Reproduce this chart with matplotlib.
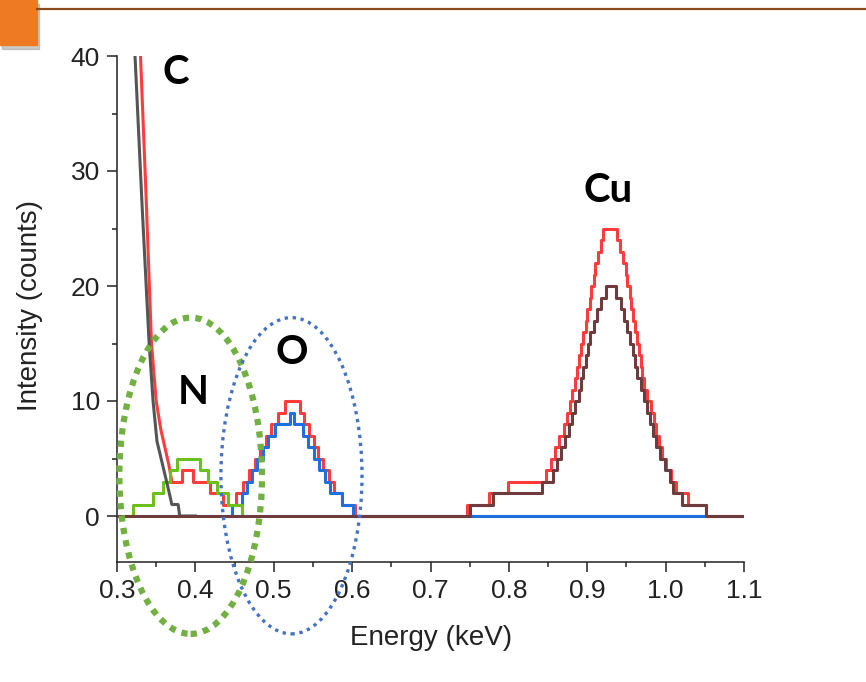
import matplotlib
matplotlib.use('Agg')
import matplotlib.pyplot as plt
from matplotlib.patches import Ellipse, Rectangle
from matplotlib.lines import Line2D
from matplotlib.ticker import MultipleLocator

# C background (smooth decay near the carbon edge)
gray_x = [0.316, 0.323, 0.332, 0.341, 0.346, 0.351, 0.358, 0.365, 0.370, 0.378, 0.380, 0.40]
gray_y = [50, 40, 27, 15, 10, 6.5, 4.5, 2.5, 1, 1, 0, 0]

red_decay_x = [0.324, 0.330, 0.337, 0.344, 0.350, 0.356, 0.361, 0.366, 0.370]
red_decay_y = [50, 40, 28, 15, 10, 7.5, 6, 4.5, 3]

# stepped spectra: x where each count level starts
red_x = [0.370, 0.383, 0.397, 0.419, 0.435, 0.452, 0.461, 0.469, 0.476, 0.483,
         0.490, 0.497, 0.505, 0.514, 0.533, 0.539, 0.545, 0.551, 0.557, 0.563,
         0.570, 0.577, 0.587, 0.604, 0.746, 0.775, 0.799, 0.848, 0.854, 0.859,
         0.864, 0.870, 0.874, 0.878, 0.881, 0.884, 0.887, 0.890, 0.892, 0.895,
         0.898, 0.900, 0.903, 0.905, 0.908, 0.910, 0.914, 0.917, 0.920, 0.938,
         0.942, 0.946, 0.949, 0.951, 0.954, 0.956, 0.959, 0.961, 0.963, 0.966,
         0.968, 0.970, 0.973, 0.976, 0.981, 0.985, 0.988, 0.991, 0.996, 1.001,
         1.007, 1.013, 1.028, 1.052, 1.100]
red_y = [3, 4, 3, 2, 1, 2, 3, 4, 5, 6,
         7, 8, 9, 10, 9, 8, 7, 6, 5, 4,
         3, 2, 1, 0, 1, 2, 3, 4, 5, 6,
         7, 8, 9, 10, 11, 12, 13, 14, 15, 16,
         17, 18, 19, 20, 21, 22, 23, 24, 25, 24,
         23, 22, 21, 20, 19, 18, 17, 16, 15, 14,
         13, 12, 11, 10, 9, 8, 7, 6, 5, 4,
         3, 2, 1, 0, 0]

green_x = [0.316, 0.320, 0.346, 0.359, 0.368, 0.376, 0.406, 0.416, 0.428, 0.442, 0.459, 0.46]
green_y = [0, 1, 2, 3, 4, 5, 4, 3, 2, 1, 0, 0]

blue_x = [0.440, 0.4465, 0.459, 0.466, 0.472, 0.479, 0.486, 0.493, 0.502, 0.521,
          0.526, 0.537, 0.544, 0.551, 0.558, 0.565, 0.572, 0.587, 0.601, 1.052]
blue_y = [0, 1, 2, 3, 4, 5, 6, 7, 8, 9,
          8, 7, 6, 5, 4, 3, 2, 1, 0, 0]

brown_x = [0.300, 0.750, 0.780, 0.842, 0.856, 0.861, 0.866, 0.872, 0.877, 0.881,
           0.885, 0.889, 0.892, 0.895, 0.898, 0.901, 0.904, 0.908, 0.912, 0.917,
           0.924, 0.937, 0.943, 0.947, 0.951, 0.954, 0.958, 0.961, 0.964, 0.968,
           0.972, 0.976, 0.980, 0.984, 0.988, 0.993, 0.999, 1.005, 1.009, 1.021,
           1.052, 1.100]
brown_y = [0, 1, 2, 3, 4, 5, 6, 7, 8, 9,
           10, 11, 12, 13, 14, 15, 16, 17, 18, 19,
           20, 19, 18, 17, 16, 15, 14, 13, 12, 11,
           10, 9, 8, 7, 6, 5, 4, 3, 2, 1,
           0, 0]

labels = ['C', 'N', 'O', 'Cu']
label_x = [0.3753, 0.397, 0.523, 0.926]
label_y = [38.6, 10.7, 14.2, 28.3]

x_ticks = [0.3, 0.4, 0.5, 0.6, 0.7, 0.8, 0.9, 1.0, 1.1]
y_ticks = [0, 10, 20, 30, 40]

plt.rcParams['font.family'] = ['Liberation Sans', 'DejaVu Sans']

fig = plt.figure(figsize=(8.66, 6.82), dpi=100)
ax = fig.add_axes([117 / 866, 120 / 682, 627 / 866, 506 / 682])

lw = 2.2
ax.plot(red_decay_x, red_decay_y, color='#ff3c3c', lw=lw, zorder=2)
ax.plot(red_x, red_y, color='#ff3c3c', lw=lw, drawstyle='steps-post', zorder=2)
ax.plot(blue_x, blue_y, color='#1f6fe0', lw=lw, drawstyle='steps-post', zorder=3)
ax.plot(green_x, green_y, color='#6cc01c', lw=lw, drawstyle='steps-post', zorder=4)
ax.plot(gray_x, gray_y, color='#555555', lw=lw, zorder=5)
ax.plot(brown_x, brown_y, color='#6e3c3c', lw=lw, drawstyle='steps-post', zorder=6)

# dotted ellipses round the N and O peaks
ax.add_patch(Ellipse((0.394, 3.5), 0.182, 27.5, fill=False, edgecolor='#72b043',
                     lw=4.5, linestyle=(0, (1, 1)), clip_on=False, zorder=7))
ax.add_patch(Ellipse((0.5226, 3.5), 0.180, 27.5, fill=False, edgecolor='#4472c4',
                     lw=2.4, linestyle=(0, (1, 1.4)), clip_on=False, zorder=7))

for t, x, y in zip(labels, label_x, label_y):
    ax.text(x, y, t, ha='center', va='center', fontsize=29, fontweight='bold',
            family=['Lato', 'DejaVu Sans'], color='black', zorder=8)

ax.set_xlim(0.3, 1.1)
ax.set_ylim(-4, 40)
ax.set_xticks(x_ticks)
ax.set_xticklabels([f'{v:.1f}' for v in x_ticks])
ax.set_yticks(y_ticks)
ax.xaxis.set_minor_locator(MultipleLocator(0.05))
ax.yaxis.set_minor_locator(MultipleLocator(5))
for s in ['top', 'right']:
    ax.spines[s].set_visible(False)
for s in ['left', 'bottom']:
    ax.spines[s].set_linewidth(1.1)
    ax.spines[s].set_color('#222222')
ax.tick_params(which='major', direction='out', length=7.2, width=1.1,
               labelsize=19, colors='#222222', pad=5)
ax.tick_params(which='minor', direction='out', length=3.6, width=1.1, colors='#222222')

fig.text(30 / 866, 1 - 305 / 682, 'Intensity (counts)', rotation=90,
         ha='center', va='center', fontsize=20, color='#222222')
fig.text(431 / 866, 1 - 638 / 682, 'Energy (keV)', ha='center', va='center',
         fontsize=20, color='#222222')

# slide header decoration
fig.patches.append(Rectangle((2 / 866, 1 - 49 / 682), 37 / 866, 45 / 682,
                             transform=fig.transFigure, color='#999999', alpha=0.5))
fig.patches.append(Rectangle((0, 1 - 45 / 682), 37 / 866, 45 / 682,
                             transform=fig.transFigure, color='#ee7a24'))
fig.lines.append(Line2D([37 / 866, 1], [1 - 8.5 / 682, 1 - 8.5 / 682],
                        transform=fig.transFigure, color='#8b4a1c', lw=1.6))

fig.savefig('out.png', dpi=100)
